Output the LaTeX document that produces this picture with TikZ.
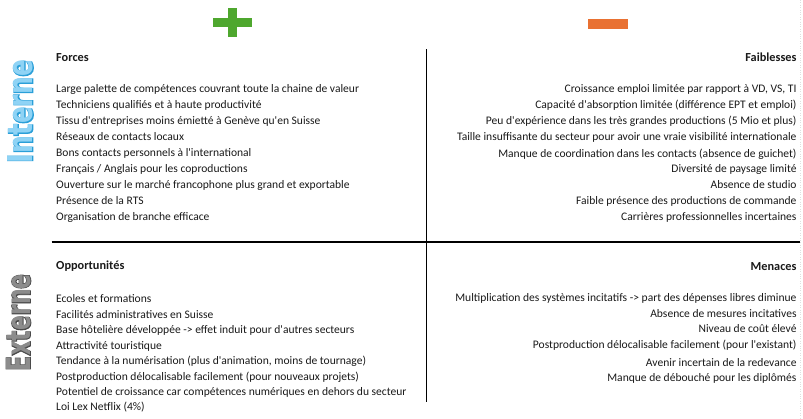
\documentclass[tikz,border=0pt]{standalone}
\usepackage{fontspec}
\setmainfont{Carlito}[Ligatures=TeXOff]
\newfontfamily\lblfill{DejaVu Sans Bold}
\newfontfamily\lblout{DejaVu Sans Bold}[FakeBold=4]
\definecolor{plusgreen}{HTML}{4EA72E}
\definecolor{minusorange}{HTML}{E97132}
\definecolor{intout}{HTML}{2A9FD8}
\definecolor{intfill}{HTML}{8FD3F5}
\definecolor{extout}{HTML}{4A4A4A}
\definecolor{extfill}{HTML}{8C8C8C}
\definecolor{txt}{HTML}{1A1A1A}
\tikzset{
  itemtxt/.style={font=\fontsize{11.55}{13}\selectfont, inner sep=0pt, text=txt},
  headtxt/.style={itemtxt, font=\fontsize{12.3}{13}\selectfont\bfseries},
  lft/.style={anchor=base west},
  rgt/.style={anchor=base east},
  axis/.style={line width=1.3pt, black},
  sidelbl/.style={inner sep=0pt, rotate=90}
}
\begin{document}
\begin{tikzpicture}[x=1pt,y=-1pt]
\useasboundingbox[fill=white] (0,0) rectangle (803,418);
% plus and minus signs
\fill[plusgreen] (213.3,17.7) rectangle (251.7,27.3);
\fill[plusgreen] (227.7,8) rectangle (236.7,36.7);
\fill[minusorange] (588,19) rectangle (628,28.7);
% faint page edge
\draw[gray!25, dotted] (800.5,0) -- (800.5,418);
% axes
\coordinate (vtop) at (426.7,49);
\coordinate (vbot) at (426.7,402);
\coordinate (hl) at (51.7,242);
\coordinate (hr) at (800,242);
\draw[axis] (vtop) -- (vbot);
\draw[axis] (hl) -- (hr);
% side labels
\node[sidelbl] (interne) at (20.5,111.5) {\resizebox{103pt}{25pt}{\rlap{\lblout\color{intout}Interne}\lblfill\color{intfill}Interne}};
\node[sidelbl] (externe) at (18.5,322.5) {\resizebox{97pt}{24pt}{\rlap{\lblout\color{extout}Externe}\lblfill\color{extfill}Externe}};
% Forces
\node[headtxt,lft] (forces) at (56,61.5) {Forces};
\foreach \t [count=\i from 0] in {
  Large palette de compétences couvrant toute la chaine de valeur,
  Techniciens qualifiés et à haute productivité,
  Tissu d'entreprises moins émietté à Genève qu'en Suisse,
  Réseaux de contacts locaux,
  Bons contacts personnels à l'international,
  Français / Anglais pour les coproductions,
  Ouverture sur le marché francophone plus grand et exportable,
  Présence de la RTS,
  Organisation de branche efficace}
  \node[itemtxt,lft] (f\i) at (56,92.8+16*\i) {\t};
% Faiblesses
\node[headtxt,rgt] (faib) at (796.7,61.5) {Faiblesses};
\foreach \t/\yy [count=\i from 0] in {
  Croissance emploi limitée par rapport à VD{,} VS{,} TI/92.8,
  Capacité d'absorption limitée (différence EPT et emploi)/108.8,
  Peu d'expérience dans les très grandes productions (5 Mio et plus)/124.8,
  Taille insuffisante du secteur pour avoir une vraie visibilité internationale/140.5,
  Manque de coordination dans les contacts (absence de guichet)/157.8,
  Diversité de paysage limité/172.8,
  Absence de studio/188.8,
  Faible présence des productions de commande/204.8,
  Carrières professionnelles incertaines/220.8}
  \node[itemtxt,rgt] (w\i) at (796.7,\yy) {\t};
% Opportunites
\node[headtxt,lft] (opp) at (56,269.5) {Opportunités};
\foreach \t/\yy [count=\i from 0] in {
  Ecoles et formations/302.8,
  Facilités administratives en Suisse/318.2,
  Base hôtelière développée -> effet induit pour d'autres secteurs/333.8,
  Attractivité touristique/349.2,
  Tendance à la numérisation (plus d'animation{,} moins de tournage)/364.5,
  Postproduction délocalisable facilement (pour nouveaux projets)/380.2,
  Potentiel de croissance car compétences numériques en dehors du secteur/395.5,
  Loi Lex Netflix (4\%)/410.8}
  \node[itemtxt,lft] (o\i) at (56,\yy) {\t};
% Menaces
\node[headtxt,rgt] (men) at (796.7,270.2) {Menaces};
\foreach \t/\yy [count=\i from 0] in {
  Multiplication des systèmes incitatifs -> part des dépenses libres diminue/301.8,
  Absence de mesures incitatives/317.2,
  Niveau de coût élevé/332.8,
  Postproduction délocalisable facilement (pour l'existant)/348.2,
  Avenir incertain de la redevance/366.8,
  Manque de débouché pour les diplômés/381.8}
  \node[itemtxt,rgt] (m\i) at (796.7,\yy) {\t};
\end{tikzpicture}
\end{document}
